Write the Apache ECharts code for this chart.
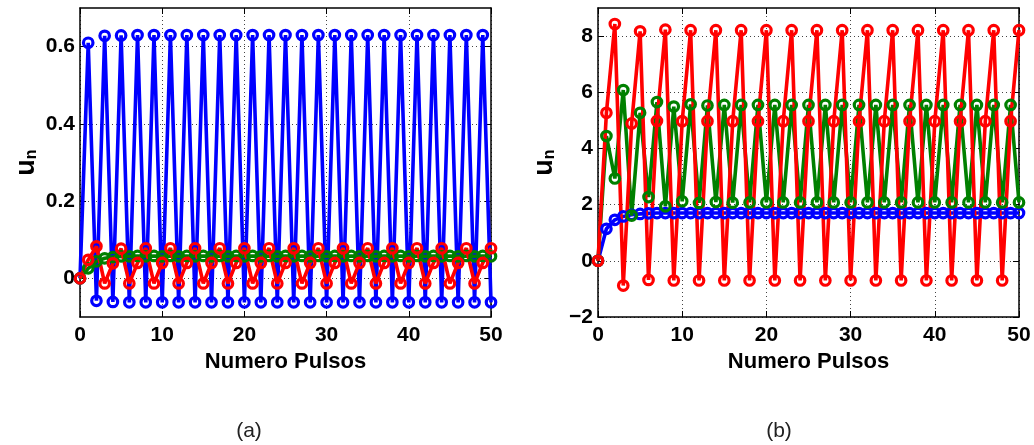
<!DOCTYPE html>
<html>
<head>
<meta charset="utf-8">
<script src="https://cdn.jsdelivr.net/npm/echarts@6/dist/echarts.min.js"></script>
<style>
  html, body { margin: 0; padding: 0; background: #fff; }
  #chart { width: 1034px; height: 445px; }
</style>
</head>
<body>
<div id="chart"></div>
<script>
// Pulse-number axis ticks (shared by both panels)
const pulseTicks = [0, 10, 20, 30, 40, 50];

// Panel (a): u_n per pulse, one entry per pulse number 0..50
const blueA = [
  0, 0.61, -0.058, 0.628, -0.061, 0.629, -0.062, 0.63, -0.062, 0.63,
  -0.062, 0.63, -0.062, 0.63, -0.062, 0.63, -0.062, 0.63, -0.062, 0.63,
  -0.062, 0.63, -0.062, 0.63, -0.062, 0.63, -0.062, 0.63, -0.062, 0.63,
  -0.062, 0.63, -0.062, 0.63, -0.062, 0.63, -0.062, 0.63, -0.062, 0.63,
  -0.062, 0.63, -0.062, 0.63, -0.062, 0.63, -0.062, 0.63, -0.062, 0.63,
  -0.062
];
const greenA = [
  0, 0.026, 0.044, 0.052, 0.055, 0.057, 0.057, 0.058, 0.057, 0.058,
  0.057, 0.058, 0.057, 0.058, 0.057, 0.058, 0.057, 0.058, 0.057, 0.058,
  0.057, 0.058, 0.057, 0.058, 0.057, 0.058, 0.057, 0.058, 0.057, 0.058,
  0.057, 0.058, 0.057, 0.058, 0.057, 0.058, 0.057, 0.058, 0.057, 0.058,
  0.057, 0.058, 0.057, 0.058, 0.057, 0.058, 0.057, 0.058, 0.057, 0.058,
  0.057
];
const redA = [
  0, 0.048, 0.083, -0.013, 0.039, 0.077, -0.013, 0.04, 0.078, -0.013,
  0.04, 0.078, -0.013, 0.04, 0.078, -0.013, 0.04, 0.078, -0.013, 0.04,
  0.078, -0.013, 0.04, 0.078, -0.013, 0.04, 0.078, -0.013, 0.04, 0.078,
  -0.013, 0.04, 0.078, -0.013, 0.04, 0.078, -0.013, 0.04, 0.078, -0.013,
  0.04, 0.078, -0.013, 0.04, 0.078, -0.013, 0.04, 0.078, -0.013, 0.04,
  0.078
];
const yTicksA = [0, 0.2, 0.4, 0.6];

// Panel (b): u_n per pulse, one entry per pulse number 0..50
const blueB = [
  0, 1.14, 1.46, 1.58, 1.64, 1.67, 1.69, 1.7, 1.7, 1.7,
  1.7, 1.7, 1.7, 1.7, 1.7, 1.7, 1.7, 1.7, 1.7, 1.7,
  1.7, 1.7, 1.7, 1.7, 1.7, 1.7, 1.7, 1.7, 1.7, 1.7,
  1.7, 1.7, 1.7, 1.7, 1.7, 1.7, 1.7, 1.7, 1.7, 1.7,
  1.7, 1.7, 1.7, 1.7, 1.7, 1.7, 1.7, 1.7, 1.7, 1.7,
  1.7
];
const greenB = [
  0, 4.44, 2.93, 6.08, 1.61, 5.27, 2.27, 5.65, 1.94, 5.49,
  2.12, 5.57, 2.06, 5.53, 2.09, 5.55, 2.07, 5.55, 2.08, 5.55,
  2.08, 5.55, 2.08, 5.55, 2.08, 5.55, 2.08, 5.55, 2.08, 5.55,
  2.08, 5.55, 2.08, 5.55, 2.08, 5.55, 2.08, 5.55, 2.08, 5.55,
  2.08, 5.55, 2.08, 5.55, 2.08, 5.55, 2.08, 5.55, 2.08, 5.55,
  2.08
];
const redB = [
  0, 5.27, 8.43, -0.88, 4.89, 8.17, -0.68, 4.98, 8.23, -0.7,
  4.97, 8.21, -0.7, 4.97, 8.21, -0.7, 4.97, 8.21, -0.7, 4.97,
  8.21, -0.7, 4.97, 8.21, -0.7, 4.97, 8.21, -0.7, 4.97, 8.21,
  -0.7, 4.97, 8.21, -0.7, 4.97, 8.21, -0.7, 4.97, 8.21, -0.7,
  4.97, 8.21, -0.7, 4.97, 8.21, -0.7, 4.97, 8.21, -0.7, 4.97,
  8.21
];
const yTicksB = [-2, 0, 2, 4, 6, 8];

const FONT = "'Liberation Sans', Arial, Helvetica, sans-serif";
const BLUE = '#0000ff', GREEN = '#008000', RED = '#ff0000';

const chart = echarts.init(document.getElementById('chart'), null, { renderer: 'canvas' });

const axisLineStyle = { color: '#000', width: 1.5 };
const gridDots = { type: [1, 3], color: '#444', width: 1 };
const tickLabel = {
  fontSize: 21, fontWeight: 'bold', color: '#000', fontFamily: FONT,
  formatter: v => String(v).replace('-', '\u2212')
};

function bottomX(gridIndex) {
  return {
    type: 'value', gridIndex, position: 'bottom',
    min: pulseTicks[0], max: pulseTicks[pulseTicks.length - 1],
    axisLine: { show: true, onZero: false, lineStyle: axisLineStyle },
    axisTick: { show: true, inside: true, length: 6, customValues: pulseTicks, lineStyle: { color: '#000', width: 1 } },
    axisLabel: Object.assign({ margin: 8, customValues: pulseTicks }, tickLabel),
    splitLine: { show: true, lineStyle: gridDots },
    name: 'Numero Pulsos', nameLocation: 'middle', nameGap: 30,
    nameTextStyle: { fontSize: 22, fontWeight: 'bold', color: '#000', fontFamily: FONT }
  };
}
function topX(gridIndex) {
  return {
    type: 'value', gridIndex, position: 'top',
    min: pulseTicks[0], max: pulseTicks[pulseTicks.length - 1],
    axisLine: { show: true, onZero: false, lineStyle: axisLineStyle },
    axisTick: { show: true, inside: true, length: 6, customValues: pulseTicks, lineStyle: { color: '#000', width: 1 } },
    axisLabel: { show: false },
    splitLine: { show: false }
  };
}
function leftY(gridIndex, min, max, ticks) {
  return {
    type: 'value', gridIndex, position: 'left', min, max,
    axisLine: { show: true, onZero: false, lineStyle: axisLineStyle },
    axisTick: { show: true, inside: true, length: 6, customValues: ticks, lineStyle: { color: '#000', width: 1 } },
    axisLabel: Object.assign({ margin: 5, customValues: ticks }, tickLabel),
    splitLine: { show: true, lineStyle: gridDots },
    name: '{u|u}{n|n}', nameLocation: 'middle', nameGap: 40, nameRotate: 90,
    nameTextStyle: {
      color: '#000', fontFamily: FONT,
      rich: {
        u: { fontSize: 27, fontWeight: 'bold', color: '#000', fontFamily: FONT, lineHeight: 27, verticalAlign: 'top' },
        n: { fontSize: 16, fontWeight: 'bold', color: '#000', fontFamily: FONT, lineHeight: 18, padding: [19, 0, 0, 0], verticalAlign: 'bottom' }
      }
    }
  };
}
function rightY(gridIndex, min, max, ticks) {
  return {
    type: 'value', gridIndex, position: 'right', min, max,
    axisLine: { show: true, onZero: false, lineStyle: axisLineStyle },
    axisTick: { show: true, inside: true, length: 6, customValues: ticks, lineStyle: { color: '#000', width: 1 } },
    axisLabel: { show: false },
    splitLine: { show: false }
  };
}

function pulseSeries(values, color, xAxisIndex, yAxisIndex) {
  return {
    type: 'line', xAxisIndex, yAxisIndex,
    data: values.map((v, i) => [i, v]),
    symbol: 'circle', symbolSize: 9.5,
    lineStyle: { color, width: 3.6 },
    itemStyle: { color: 'rgba(255,255,255,0)', borderColor: color, borderWidth: 3.2 },
    emphasis: { disabled: true },
    clip: false,
    animation: false
  };
}

chart.setOption({
  animation: false,
  backgroundColor: '#fff',
  grid: [
    { left: 80, top: 8, width: 411, height: 309 },
    { left: 598, top: 8, width: 421, height: 309 }
  ],
  xAxis: [bottomX(0), topX(0), bottomX(1), topX(1)],
  yAxis: [
    leftY(0, -0.1, 0.7, yTicksA), rightY(0, -0.1, 0.7, yTicksA),
    leftY(1, -2, 9, yTicksB), rightY(1, -2, 9, yTicksB)
  ],
  series: [
    pulseSeries(blueA, BLUE, 0, 0),
    pulseSeries(greenA, GREEN, 0, 0),
    pulseSeries(redA, RED, 0, 0),
    pulseSeries(blueB, BLUE, 2, 2),
    pulseSeries(greenB, GREEN, 2, 2),
    pulseSeries(redB, RED, 2, 2)
  ],
  graphic: [
    { type: 'text', x: 249, y: 431, style: { text: '(a)', font: "21px " + FONT, fill: '#222', align: 'center', verticalAlign: 'middle' } },
    { type: 'text', x: 779, y: 431, style: { text: '(b)', font: "21px " + FONT, fill: '#222', align: 'center', verticalAlign: 'middle' } }
  ]
});
</script>
</body>
</html>
